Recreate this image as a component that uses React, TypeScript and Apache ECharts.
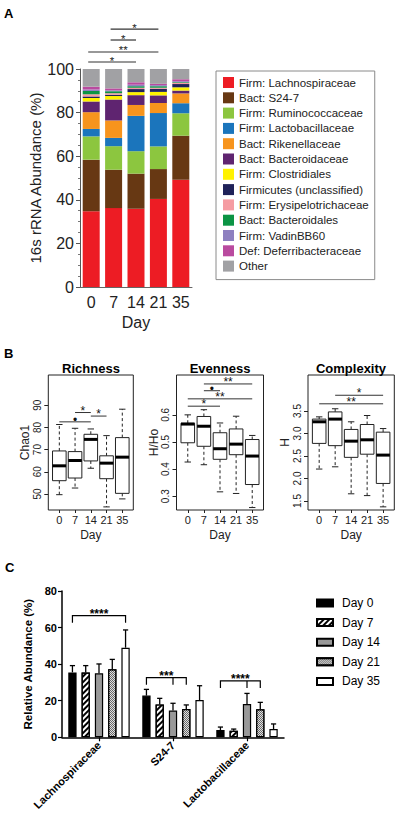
import React, { useEffect, useRef } from "react";
import * as echarts from "echarts";

// ---------- Panel A: stacked composition ----------
const days = ["0", "7", "14", "21", "35"];
const taxa = [
  "Firm: Lachnospiraceae",
  "Bact: S24-7",
  "Firm: Ruminococcaceae",
  "Firm: Lactobacillaceae",
  "Bact: Rikenellaceae",
  "Bact: Bacteroidaceae",
  "Firm: Clostridiales",
  "Firmicutes (unclassified)",
  "Firm: Erysipelotrichaceae",
  "Bact: Bacteroidales",
  "Firm: VadinBB60",
  "Def: Deferribacteraceae",
  "Other",
];
const lachnospiraceae = [34.7, 36.2, 35.9, 40.4, 49.2];
const s247 = [23.7, 17.6, 16.1, 13.7, 20.2];
const ruminococcaceae = [10.7, 10.8, 10.3, 10.4, 10.3];
const lactobacillaceae = [3.4, 3.8, 16.2, 15.3, 4.6];
const rikenellaceae = [7.7, 8.0, 5.0, 4.6, 4.5];
const bacteroidaceae = [4.9, 9.6, 4.5, 3.5, 1.3];
const clostridiales = [1.6, 1.6, 1.4, 1.6, 1.5];
const firmicutesUnclassified = [0.7, 0.6, 1.4, 1.4, 1.5];
const erysipelotrichaceae = [1.0, 0.7, 0.6, 0.5, 0.6];
const bacteroidales = [1.5, 0.9, 0.7, 0.7, 0.3];
const vadinBB60 = [0.7, 0.4, 0.7, 0.5, 0.4];
const deferribacteraceae = [1.3, 0.9, 1.1, 0.6, 0.9];
const otherTaxa = [8.1, 8.9, 6.1, 6.8, 4.7];
const composition = [
  lachnospiraceae, s247, ruminococcaceae, lactobacillaceae, rikenellaceae,
  bacteroidaceae, clostridiales, firmicutesUnclassified, erysipelotrichaceae,
  bacteroidales, vadinBB60, deferribacteraceae, otherTaxa,
];
const taxaColors = [
  "#ed1c24", "#673813", "#8cc63f", "#1b75bc", "#f7941d", "#5f2470", "#fff200",
  "#1f2259", "#f59ca2", "#0b9444", "#8e80c0", "#b94a9f", "#a1a1a4",
];
// significance: [fromIndex, toIndex, level (%)]
const sigA = [
  [1, 3, 118.3],
  [1, 2, 113.3],
  [0, 3, 107.8],
  [0, 2, 103.2],
];
const sigALabels = ["*", "*", "**", "*"];

// ---------- Panel B: diversity boxplots [min, q1, median, q3, max] ----------
const richness = [
  [49.7, 56.0, 62.7, 69.4, 81.3],
  [52.7, 57.2, 65.1, 69.1, 79.6],
  [61.6, 64.9, 74.6, 76.9, 79.3],
  [44.2, 56.9, 63.9, 67.2, 76.3],
  [47.8, 50.3, 66.6, 75.4, 88.2],
];
const evenness = [
  [0.426, 0.497, 0.566, 0.569, 0.6],
  [0.416, 0.484, 0.558, 0.594, 0.619],
  [0.316, 0.436, 0.475, 0.534, 0.57],
  [0.31, 0.453, 0.492, 0.548, 0.595],
  [0.258, 0.343, 0.448, 0.509, 0.524],
];
const complexity = [
  [2.21, 2.78, 3.26, 3.32, 3.37],
  [2.26, 2.73, 3.32, 3.48, 3.55],
  [1.66, 2.47, 2.83, 3.09, 3.26],
  [1.62, 2.54, 2.86, 3.2, 3.4],
  [1.37, 1.89, 2.52, 3.03, 3.11],
];
const richnessTicks = [50, 60, 70, 80, 90];
const evennessTicks = [0.3, 0.4, 0.5, 0.6];
const complexityTicks = [1.5, 2.0, 2.5, 3.0, 3.5];
// significance: [fromBox, toBox, level]
const sigRichness = [[0, 2, 82.5], [1, 2, 86.7], [2, 3, 85.1]];
const sigRichnessLabels = ["•", "*", "*"];
const sigEvenness = [[0, 2, 0.632], [0, 4, 0.659], [1, 2, 0.689], [1, 4, 0.714]];
const sigEvennessLabels = ["*", "**", "•", "**"];
const sigComplexity = [[0, 4, 3.66], [1, 4, 3.85]];
const sigComplexityLabels = ["**", "*"];

// ---------- Panel C: relative abundance mean + error ----------
const cTaxa = ["Lachnospiraceae", "S24-7", "Lactobacillaceae"];
const cDays = ["Day 0", "Day 7", "Day 14", "Day 21", "Day 35"];
const meanDay0 = [35.5, 22.8, 4.0];
const meanDay7 = [35.4, 18.0, 3.6];
const meanDay14 = [35.0, 14.6, 18.2];
const meanDay21 = [37.2, 15.5, 15.3];
const meanDay35 = [49.0, 20.4, 4.5];
const errDay0 = [3.7, 3.4, 1.6];
const errDay7 = [3.8, 3.3, 0.9];
const errDay14 = [5.1, 4.0, 5.8];
const errDay21 = [5.4, 2.2, 3.8];
const errDay35 = [9.7, 7.8, 2.8];
const cMeans = [meanDay0, meanDay7, meanDay14, meanDay21, meanDay35];
const cErrs = [errDay0, errDay7, errDay14, errDay21, errDay35];
// brackets: [taxonIndex, fromDay, toDay, middleDay (-1 none), level]
const cBrackets = [
  [0, 0, 4, -1, 66.5],
  [1, 0, 3, 2, 32.6],
  [2, 0, 3, 2, 30.8],
];
const cBracketLabels = ["****", "***", "****"];

const FONT = "'Liberation Sans', Arial, Helvetica, sans-serif";
const INK = "#222";

function buildOption(): any {
  const series: any[] = [];
  const customBase = {
    type: "custom",
    clip: false,
    silent: true,
    colorBy: "series",
    itemStyle: { color: INK },
  };

  // Panel A stacked bars
  taxa.forEach((name, i) => {
    series.push({
      name,
      type: "bar",
      stack: "A",
      xAxisIndex: 0,
      yAxisIndex: 0,
      barWidth: 17,
      data: composition[i],
      itemStyle: { color: taxaColors[i] },
    });
  });
  series.push({
    ...customBase,
    xAxisIndex: 0,
    yAxisIndex: 0,
    encode: { x: 0, y: 2 },
    data: sigA,
    renderItem: (params: any, api: any) => {
      const a = api.coord([api.value(0), api.value(2)]);
      const b = api.coord([api.value(1), api.value(2)]);
      const x1 = a[0] - 3;
      const x2 = b[0];
      return {
        type: "group",
        children: [
          { type: "line", shape: { x1, y1: a[1], x2, y2: a[1] }, style: { stroke: "#333", fill: null, lineWidth: 1.2 } },
          {
            type: "text",
            x: (x1 + x2) / 2,
            y: a[1] - 1.5,
            style: { text: sigALabels[params.dataIndex], fontSize: 11.5, lineHeight: 10, fontFamily: FONT, fill: "#222", stroke: null, align: "center", verticalAlign: "middle" },
          },
        ],
      };
    },
  });

  // Panel B boxplots
  const boxRender = (params: any, api: any) => {
    const x = api.value(0);
    const yMin = api.coord([x, api.value(1)])[1];
    const yQ1 = api.coord([x, api.value(2)])[1];
    const yMed = api.coord([x, api.value(3)])[1];
    const yQ3 = api.coord([x, api.value(4)])[1];
    const yMax = api.coord([x, api.value(5)])[1];
    const cx = api.coord([x, api.value(3)])[0];
    const hw = 6.8;
    const cw = 3.2;
    const dash = { stroke: INK, fill: null, lineWidth: 1, lineDash: [3, 2.5] };
    const solid = { stroke: INK, fill: null, lineWidth: 1 };
    return {
      type: "group",
      children: [
        { type: "line", shape: { x1: cx, y1: yQ3, x2: cx, y2: yMax }, style: dash },
        { type: "line", shape: { x1: cx, y1: yQ1, x2: cx, y2: yMin }, style: dash },
        { type: "line", shape: { x1: cx - cw, y1: yMax, x2: cx + cw, y2: yMax }, style: solid },
        { type: "line", shape: { x1: cx - cw, y1: yMin, x2: cx + cw, y2: yMin }, style: solid },
        { type: "rect", shape: { x: cx - hw, y: yQ3, width: 2 * hw, height: yQ1 - yQ3 }, style: { fill: "#fff", stroke: INK, lineWidth: 1 } },
        { type: "line", shape: { x1: cx - hw, y1: yMed, x2: cx + hw, y2: yMed }, style: { stroke: "#000", fill: null, lineWidth: 3 } },
      ],
    };
  };
  const sigRender = (labels: string[]) => (params: any, api: any) => {
    const a = api.coord([api.value(0), api.value(2)]);
    const b = api.coord([api.value(1), api.value(2)]);
    return {
      type: "group",
      children: [
        { type: "line", shape: { x1: a[0], y1: a[1], x2: b[0], y2: a[1] }, style: { stroke: "#333", fill: null, lineWidth: 1 } },
        {
          type: "text",
          x: (a[0] + b[0]) / 2,
          y: a[1] - 2,
          style: { text: labels[params.dataIndex], fontSize: 12, lineHeight: 9, fontFamily: FONT, fill: "#111", stroke: null, align: "center", verticalAlign: "middle" },
        },
      ],
    };
  };
  const boxSets = [
    { data: richness, sig: sigRichness, labels: sigRichnessLabels },
    { data: evenness, sig: sigEvenness, labels: sigEvennessLabels },
    { data: complexity, sig: sigComplexity, labels: sigComplexityLabels },
  ];
  boxSets.forEach((set, k) => {
    series.push({
      ...customBase,
      xAxisIndex: k + 1,
      yAxisIndex: k + 1,
      encode: { x: 0, y: [1, 2, 3, 4, 5] },
      data: set.data.map((d, i) => [i + 1, ...d]),
      renderItem: boxRender,
    });
    series.push({
      ...customBase,
      xAxisIndex: k + 1,
      yAxisIndex: k + 1,
      encode: { x: 0, y: 2 },
      data: set.sig.map((s) => [s[0] + 1, s[1] + 1, s[2]]),
      renderItem: sigRender(set.labels),
    });
  });

  // Panel C bars
  const BAR_W = 8.3;
  const BAR_STEP = BAR_W * 1.6;
  const cStyles: any[] = [
    { color: "#000" },
    {
      color: "#fff",
      decal: { symbol: "rect", symbolSize: 1, dashArrayX: [1, 0], dashArrayY: [2, 2], rotation: -Math.PI / 4, color: "#000" },
    },
    { color: "#999" },
    {
      color: "#6a6a6a",
      decal: { symbol: "rect", symbolSize: 1, dashArrayX: [[1, 1], [0, 1, 1, 0]], dashArrayY: [1, 0], rotation: 0, color: "#e0e0e0" },
    },
    { color: "#fff" },
  ];
  cDays.forEach((name, i) => {
    series.push({
      name,
      type: "bar",
      xAxisIndex: 4,
      yAxisIndex: 4,
      barWidth: BAR_W,
      barGap: "60%",
      data: cMeans[i],
      itemStyle: { ...cStyles[i], borderColor: "#000", borderWidth: 1.2 },
    });
  });
  cDays.forEach((name, i) => {
    series.push({
      ...customBase,
      xAxisIndex: 4,
      yAxisIndex: 4,
      encode: { x: 0, y: [1, 2] },
      data: cMeans[i].map((m, c) => [c, m + cErrs[i][c], m]),
      renderItem: (params: any, api: any) => {
        const top = api.coord([api.value(0), api.value(1)]);
        const base = api.coord([api.value(0), api.value(2)]);
        const cx = top[0] + (i - 2) * BAR_STEP;
        return {
          type: "group",
          children: [
            { type: "line", shape: { x1: cx, y1: base[1], x2: cx, y2: top[1] }, style: { stroke: "#000", fill: null, lineWidth: 1.3 } },
            { type: "line", shape: { x1: cx - 2.6, y1: top[1], x2: cx + 2.6, y2: top[1] }, style: { stroke: "#000", fill: null, lineWidth: 1.3 } },
          ],
        };
      },
    });
  });
  series.push({
    ...customBase,
    xAxisIndex: 4,
    yAxisIndex: 4,
    encode: { x: 0, y: 4 },
    data: cBrackets,
    renderItem: (params: any, api: any) => {
      const p = api.coord([api.value(0), api.value(4)]);
      const xf = p[0] + (api.value(1) - 2) * BAR_STEP;
      const xt = p[0] + (api.value(2) - 2) * BAR_STEP;
      const mid = api.value(3);
      const drop = 7;
      const st = { stroke: "#000", fill: null, lineWidth: 1.2 };
      const children: any[] = [
        { type: "polyline", shape: { points: [[xf, p[1] + drop], [xf, p[1]], [xt, p[1]], [xt, p[1] + drop]] }, style: st },
        {
          type: "text",
          x: (xf + xt) / 2,
          y: p[1] - 2,
          style: { text: cBracketLabels[params.dataIndex], fontSize: 12, lineHeight: 10, fontWeight: "bold", fontFamily: FONT, fill: "#000", stroke: null, align: "center", verticalAlign: "middle" },
        },
      ];
      if (mid >= 0) {
        const xm = p[0] + (mid - 2) * BAR_STEP;
        children.push({ type: "line", shape: { x1: xm, y1: p[1], x2: xm, y2: p[1] + drop }, style: st });
      }
      return { type: "group", children };
    },
  });

  const bGrid = (left: number, width: number) => ({
    left,
    top: 375,
    width,
    height: 135,
    show: true,
    borderColor: INK,
    borderWidth: 1,
    backgroundColor: "transparent",
  });

  const bX = (gridIndex: number) => ({
    type: "value",
    gridIndex,
    min: 0.3,
    max: 5.7,
    axisLine: { show: false },
    splitLine: { show: false },
    axisTick: { show: true, length: 3, lineStyle: { color: INK }, customValues: [1, 2, 3, 4, 5] },
    axisLabel: {
      customValues: [1, 2, 3, 4, 5],
      formatter: (v: number) => days[Math.round(v) - 1],
      fontSize: 11,
      color: INK,
      margin: 4,
      fontFamily: FONT,
    },
    name: "Day",
    nameLocation: "middle",
    nameGap: 19,
    nameTextStyle: { fontSize: 12, color: INK, fontFamily: FONT },
  });

  const bY = (gridIndex: number, min: number, max: number, ticks: number[], name: string, dec: number) => ({
    type: "value",
    gridIndex,
    min,
    max,
    axisLine: { show: false },
    splitLine: { show: false },
    axisTick: { show: true, length: 4, lineStyle: { color: INK }, customValues: ticks },
    axisLabel: {
      customValues: ticks,
      formatter: (v: number) => v.toFixed(dec),
      rotate: 90,
      fontSize: 10,
      color: INK,
      margin: 6,
      fontFamily: FONT,
    },
    name,
    nameLocation: "middle",
    nameRotate: 90,
    nameGap: 16,
    nameTextStyle: { fontSize: 12, color: INK, fontFamily: FONT },
  });

  return {
    animation: false,
    backgroundColor: "#fff",
    textStyle: { fontFamily: FONT },
    grid: [
      { left: 80, top: 69, width: 112, height: 218 },
      bGrid(48.3, 85),
      bGrid(176.5, 87),
      bGrid(308, 86.3),
      { left: 62, top: 591, width: 222, height: 146.3 },
    ],
    xAxis: [
      {
        type: "category",
        gridIndex: 0,
        data: days,
        axisLine: { show: true, lineStyle: { color: "#666", width: 1 } },
        axisTick: { show: false },
        axisLabel: { fontSize: 16, color: "#222", margin: 7, fontFamily: FONT, interval: 0, hideOverlap: false },
        name: "Day",
        nameLocation: "middle",
        nameGap: 27,
        nameTextStyle: { fontSize: 16, color: "#222", fontFamily: FONT },
      },
      bX(1),
      bX(2),
      bX(3),
      {
        type: "category",
        gridIndex: 4,
        data: cTaxa,
        axisLine: { show: true, lineStyle: { color: "#000", width: 1.5 } },
        axisTick: { show: true, alignWithLabel: true, length: 4, lineStyle: { color: "#000", width: 1.2 } },
        axisLabel: { rotate: 45, fontSize: 11, fontWeight: "bold", color: "#000", margin: 6, fontFamily: FONT, interval: 0 },
      },
    ],
    yAxis: [
      {
        type: "value",
        gridIndex: 0,
        min: 0,
        max: 100,
        interval: 20,
        axisLine: { show: true, lineStyle: { color: "#555", width: 1 } },
        axisTick: { show: true, length: 4, lineStyle: { color: "#555" } },
        minorTick: { show: true, splitNumber: 4, length: 2, lineStyle: { color: "#777" } },
        splitLine: { show: false },
        axisLabel: { fontSize: 16, color: "#222", margin: 6, fontFamily: FONT },
        name: "16s rRNA Abundance (%)",
        nameLocation: "middle",
        nameRotate: 90,
        nameGap: 36,
        nameTextStyle: { fontSize: 15, color: "#222", fontFamily: FONT },
      },
      bY(1, 42.8, 103.6, richnessTicks, "Chao1", 0),
      bY(2, 0.249, 0.747, evennessTicks, "H/Ho", 1),
      bY(3, 1.3, 4.3, complexityTicks, "H", 1),
      {
        type: "value",
        gridIndex: 4,
        min: 0,
        max: 80,
        interval: 20,
        axisLine: { show: true, lineStyle: { color: "#000", width: 1.5 } },
        axisTick: { show: true, length: 4, lineStyle: { color: "#000", width: 1.2 } },
        splitLine: { show: false },
        axisLabel: { fontSize: 11, fontWeight: "bold", color: "#000", margin: 5, fontFamily: FONT },
        name: "Relative Abundance (%)",
        nameLocation: "middle",
        nameRotate: 90,
        nameGap: 22,
        nameTextStyle: { fontSize: 11.5, fontWeight: "bold", color: "#000", fontFamily: FONT },
      },
    ],
    legend: [
      {
        data: taxa,
        orient: "vertical",
        left: 216,
        top: 71,
        icon: "rect",
        itemWidth: 11,
        itemHeight: 11,
        itemGap: 3.3,
        padding: [5.5, 6, 7.5, 7],
        borderColor: "#8a8a8a",
        borderWidth: 1,
        selectedMode: false,
        textStyle: { fontSize: 11.5, lineHeight: 12, color: "#222", fontFamily: FONT },
      },
      {
        data: cDays,
        orient: "vertical",
        left: 316,
        top: 597,
        icon: "rect",
        itemWidth: 16,
        itemHeight: 7,
        itemGap: 7.6,
        padding: 0,
        selectedMode: false,
        textStyle: { fontSize: 12, lineHeight: 12, color: "#000", fontFamily: FONT, padding: [0, 0, 0, 4] },
      },
    ],
    graphic: [
      { type: "text", left: 4, top: 7, style: { text: "A", fontSize: 13, fontWeight: "bold", fill: "#000", fontFamily: FONT } },
      { type: "text", left: 4, top: 347, style: { text: "B", fontSize: 13, fontWeight: "bold", fill: "#000", fontFamily: FONT } },
      { type: "text", left: 5, top: 561, style: { text: "C", fontSize: 13, fontWeight: "bold", fill: "#000", fontFamily: FONT } },
      { type: "text", x: 91, y: 368, style: { text: "Richness", fontSize: 13, fontWeight: "bold", fill: "#000", fontFamily: FONT, align: "center", verticalAlign: "middle" } },
      { type: "text", x: 220, y: 368, style: { text: "Evenness", fontSize: 13, fontWeight: "bold", fill: "#000", fontFamily: FONT, align: "center", verticalAlign: "middle" } },
      { type: "text", x: 351, y: 368, style: { text: "Complexity", fontSize: 13, fontWeight: "bold", fill: "#000", fontFamily: FONT, align: "center", verticalAlign: "middle" } },
    ],
    series,
  };
}

export default function App() {
  const ref = useRef<HTMLDivElement>(null);
  useEffect(() => {
    document.body.style.margin = "0";
    const chart = echarts.init(ref.current as HTMLDivElement, null, { renderer: "svg" });
    chart.setOption(buildOption());
    return () => {
      chart.dispose();
    };
  }, []);
  return <div ref={ref} style={{ width: 400, height: 818 }} />;
}
